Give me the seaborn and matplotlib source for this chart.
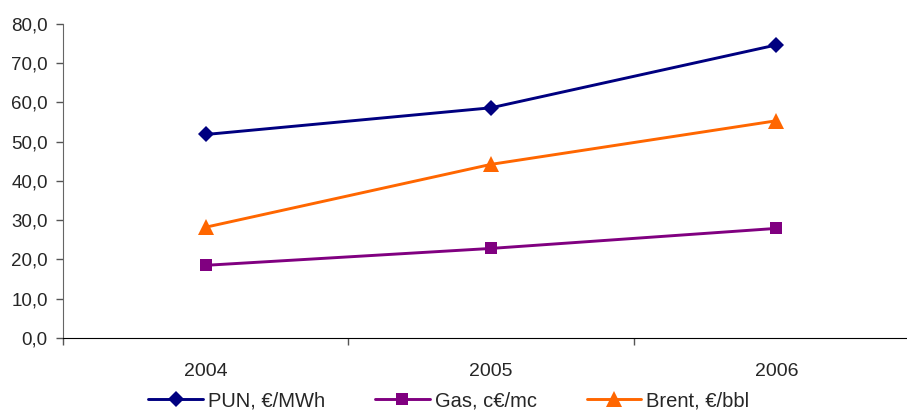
import pandas as pd
import seaborn as sns
import matplotlib.pyplot as plt
from matplotlib.ticker import FuncFormatter, FixedLocator

years = ['2004', '2005', '2006']
pun = [51.8, 58.6, 74.6]
gas = [18.5, 22.8, 27.9]
brent = [28.2, 44.2, 55.3]
series_names = ['PUN, €/MWh', 'Gas, c€/mc', 'Brent, €/bbl']

df = pd.DataFrame({
    'year': years * 3,
    'value': pun + gas + brent,
    'series': [series_names[0]] * 3 + [series_names[1]] * 3 + [series_names[2]] * 3,
})

sns.set_style('white')
plt.rcParams['font.family'] = ['Liberation Sans', 'DejaVu Sans']

fig = plt.figure(figsize=(9.07, 4.16), dpi=100)
ax = fig.add_axes([0.0695, 0.1875, 0.9438, 0.7555])

palette = {series_names[0]: '#000080', series_names[1]: '#800080', series_names[2]: '#FF6600'}
markers = {series_names[0]: 'D', series_names[1]: 's', series_names[2]: '^'}
sns.lineplot(data=df, x='year', y='value', hue='series', style='series',
             palette=palette, markers=markers, dashes=False, linewidth=2.1,
             markersize=9, markeredgewidth=0, ax=ax)

ax.set_xlim(-0.5, 2.5)
ax.set_ylim(0, 80)
ax.set_yticks(range(0, 81, 10))
ax.yaxis.set_major_formatter(FuncFormatter(lambda v, p: f"{v:.1f}".replace('.', ',')))
ax.xaxis.set_minor_locator(FixedLocator([-0.5, 0.5, 1.5, 2.5]))
ax.tick_params(axis='x', which='major', length=0, pad=18, labelsize=14)
ax.tick_params(axis='x', which='minor', length=5, width=1, color='#555555', bottom=True)
ax.tick_params(axis='y', length=5, width=1, color='#555555', left=True, labelsize=13.5, pad=6)
ax.set_xlabel('')
ax.set_ylabel('')
sns.despine(ax=ax)
ax.spines['left'].set_color('#666666')
ax.spines['bottom'].set_color('black')

handles, labels = ax.get_legend_handles_labels()
ax.get_legend().remove()
for line in list(ax.lines) + list(handles):
    if line.get_marker() == '^':
        line.set_markersize(11)
    elif line.get_marker() == 'D':
        line.set_markersize(8.5)
fig.legend(handles, labels, loc='lower center', bbox_to_anchor=(0.495, -0.03), ncol=3,
           frameon=False, fontsize=14.5, handlelength=2.7, handletextpad=0.25, columnspacing=2.5)

plt.savefig('out.png', dpi=100)
